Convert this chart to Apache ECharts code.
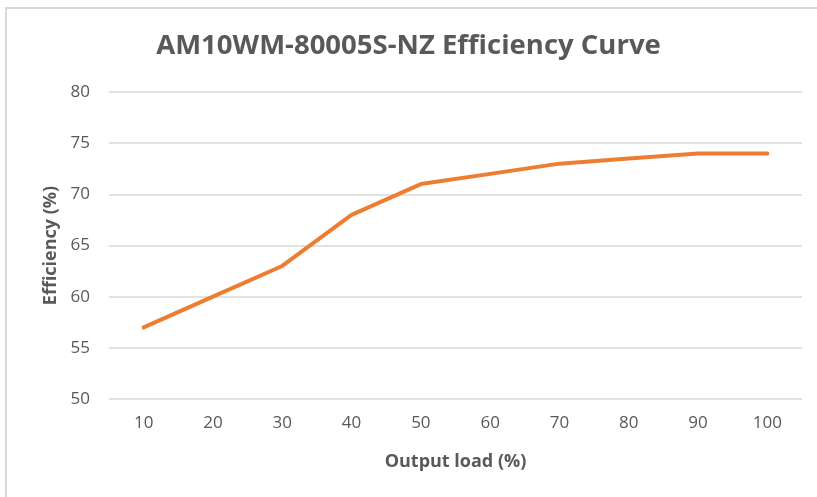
<!DOCTYPE html>
<html>
<head>
<meta charset="utf-8">
<script src="https://cdn.jsdelivr.net/npm/echarts@6/dist/echarts.min.js"></script>
<style>
  html, body { margin: 0; padding: 0; background: #fff; }
  #chart { width: 817px; height: 497px; }
</style>
</head>
<body>
<div id="chart"></div>
<script>
var loadLabels = ['10', '20', '30', '40', '50', '60', '70', '80', '90', '100'];
var efficiency = [57, 60, 63, 68, 71, 72, 73, 73.5, 74, 74];
var yMin = 50, yMax = 80, yStep = 5;

var mychart = echarts.init(document.getElementById('chart'));
var txt = '#595959';
var fontName = '"Open Sans", "Noto Sans", sans-serif';

option = {
    animation: false,
    graphic: [{
        type: 'rect',
        shape: { x: 6, y: 8, width: 830, height: 520 },
        style: { fill: 'none', stroke: '#d9d9d9', lineWidth: 2 }
    }],
    title: {
        text: 'AM10WM-80005S-NZ Efficiency Curve',
        left: 'center',
        top: 27,
        textStyle: { color: txt, fontSize: 27.5, fontWeight: 'bold', fontFamily: fontName }
    },
    grid: { left: 109, right: 15, top: 92, bottom: 98, containLabel: false },
    xAxis: {
        type: 'category',
        data: loadLabels,
        boundaryGap: true,
        name: 'Output load (%)',
        nameLocation: 'middle',
        nameGap: 54,
        nameTextStyle: { color: txt, fontSize: 18, fontWeight: 'bold', fontFamily: fontName },
        axisLine: { show: false },
        axisTick: { show: false },
        axisLabel: { color: txt, fontSize: 17, margin: 16, fontFamily: fontName }
    },
    yAxis: {
        type: 'value',
        min: yMin,
        max: yMax,
        interval: yStep,
        name: 'Efficiency (%)',
        nameLocation: 'middle',
        nameGap: 49,
        nameTextStyle: { color: txt, fontSize: 18, fontWeight: 'bold', fontFamily: fontName },
        axisLine: { show: false },
        axisTick: { show: false },
        axisLabel: { color: txt, fontSize: 17, margin: 19, fontFamily: fontName },
        splitLine: { lineStyle: { color: '#d9d9d9', width: 1.5 } }
    },
    series: [{
        type: 'line',
        data: efficiency,
        symbol: 'none',
        lineStyle: { color: '#ED7D31', width: 4, cap: 'round', join: 'round' }
    }]
};
mychart.setOption(option);
</script>
</body>
</html>
